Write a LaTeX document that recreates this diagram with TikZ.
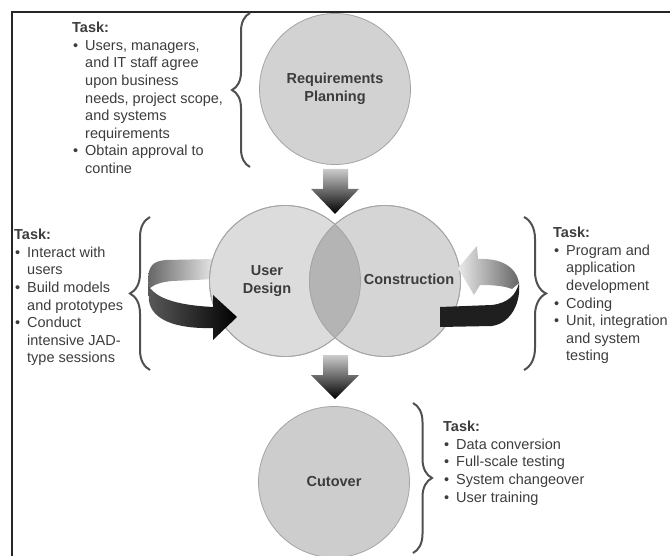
\documentclass[tikz,border=0pt]{standalone}
\usepackage{fontspec}
\setmainfont{Liberation Sans}
\usetikzlibrary{decorations.pathreplacing,calc,positioning}
\definecolor{txtgray}{HTML}{3C3C3C}
\definecolor{ringgray}{HTML}{A5A5A5}
\definecolor{reqfill}{HTML}{D2D2D2}
\definecolor{udfill}{HTML}{DCDCDC}
\definecolor{confill}{HTML}{D5D5D5}
\definecolor{lensfill}{HTML}{B4B4B4}
\definecolor{cutfill}{HTML}{CDCDCD}
\definecolor{bracegray}{HTML}{505050}
\newcommand{\bul}{\makebox[13pt][l]{\hspace{1pt}\textbullet}}
\newcommand{\ind}{\hspace*{13pt}}

\begin{document}
\begin{tikzpicture}[x=1pt,y=-1pt,
  phase/.style={circle,draw=ringgray,line width=0.8pt,minimum size=151pt,inner sep=0pt,align=center,font=\fontsize{14.5}{18}\selectfont\bfseries,text=txtgray},
  plabel/.style={align=center,inner sep=0pt,font=\fontsize{14.5}{18}\selectfont\bfseries,text=txtgray},
  task/.style={anchor=north west,inner sep=0pt,align=left,font=\fontsize{14.5}{17.6}\selectfont,text=txtgray},
  curly/.style={draw=bracegray,line width=2pt,decorate,decoration={brace,amplitude=#1}},
  blockarrow/.style={top color=black!20,middle color=black,bottom color=black}
]
\useasboundingbox (0,0) rectangle (670,556);
\draw[line width=1.5pt,black!85] (12,556) -- (12,12) -- (670,12);

% back half of the left loop
\shade[left color=black!60,right color=black!8] (148,281) .. controls (148,266) and (153,261) .. (166,260) -- (216,259) -- (216,279) -- (172,281) .. controls (162,282) and (155,284) .. (150,288) -- cycle;

\node[phase,fill=reqfill] (req) at (335,89) {Requirements\\Planning};
\node[phase,fill=udfill] (ud) at (285,281) {};
\node[phase,fill=confill] (con) at (385,281) {};
\begin{scope}
  \clip (ud.center) circle (75.5pt);
  \fill[lensfill] (con.center) circle (75.5pt);
\end{scope}
\draw[ringgray,line width=0.8pt] (ud.center) circle (75.5pt) (con.center) circle (75.5pt);
\node[plabel] (udtxt) at (267,281) {User\\Design};
\node[plabel] (contxt) at (409,279) {Construction};
\node[phase,fill=cutfill] (cut) at (334,482) {Cutover};

% front parts of the loops
\shade[left color=black!65,right color=black] (148,281) -- (150,288) .. controls (157,297) and (173,305) .. (213,307) -- (213,295) -- (237,317) -- (213,340) -- (213,328) .. controls (176,329) and (152,320) .. (149,301) -- cycle;
\shade[left color=black!8,right color=black!60] (458,268) -- (477,246) -- (478,259) .. controls (500,258) and (516,266) .. (519,283) -- (512,289) .. controls (504,286) and (494,285) .. (480,285) -- (474,295) -- cycle;
\fill[black!88] (440,307) -- (492,305) .. controls (508,303) and (516,295) .. (519,283) .. controls (521,301) and (512,323) .. (492,326) -- (440,327) -- cycle;

\shade[blockarrow] ($(req.south)+(-12,4)$) -- ++(25,0) -- ++(0,20) -- ++(11,0) -- ++(-24,25) -- ++(-24,-25) -- ++(12,0) -- cycle;
\shade[blockarrow] ($(cut.north)+(-11,-51)$) -- ++(25,0) -- ++(0,20) -- ++(11,0) -- ++(-24,24) -- ++(-24,-24) -- ++(12,0) -- cycle;

\draw[curly=18pt] (250,167) -- (250,13);
\draw[curly=20pt] (150,370) -- (150,217);
\draw[curly=22pt] (524,217) -- (524,370);
\draw[curly=19pt] (413,403) -- (413,553);

\node[task] (reqtask) at (72,22) {\textbf{Task:}\\
  \bul Users, managers,\\ \ind and IT staff agree\\ \ind upon business\\
  \ind needs, project scope,\\ \ind and systems\\ \ind requirements\\
  \bul Obtain approval to\\ \ind contine};
\node[task] (udtask) at (14,229) {\textbf{Task:}\\
  \bul Interact with\\ \ind users\\ \bul Build models\\ \ind and prototypes\\
  \bul Conduct\\ \ind intensive JAD-\\ \ind type sessions};
\node[task] (contask) at (553,227) {\textbf{Task:}\\
  \bul Program and\\ \ind application\\ \ind development\\ \bul Coding\\
  \bul Unit, integration\\ \ind and system\\ \ind testing};
\node[task] (cuttask) at (443,421) {\textbf{Task:}\\
  \bul Data conversion\\ \bul Full-scale testing\\ \bul System changeover\\
  \bul User training};
\end{tikzpicture}
\end{document}
